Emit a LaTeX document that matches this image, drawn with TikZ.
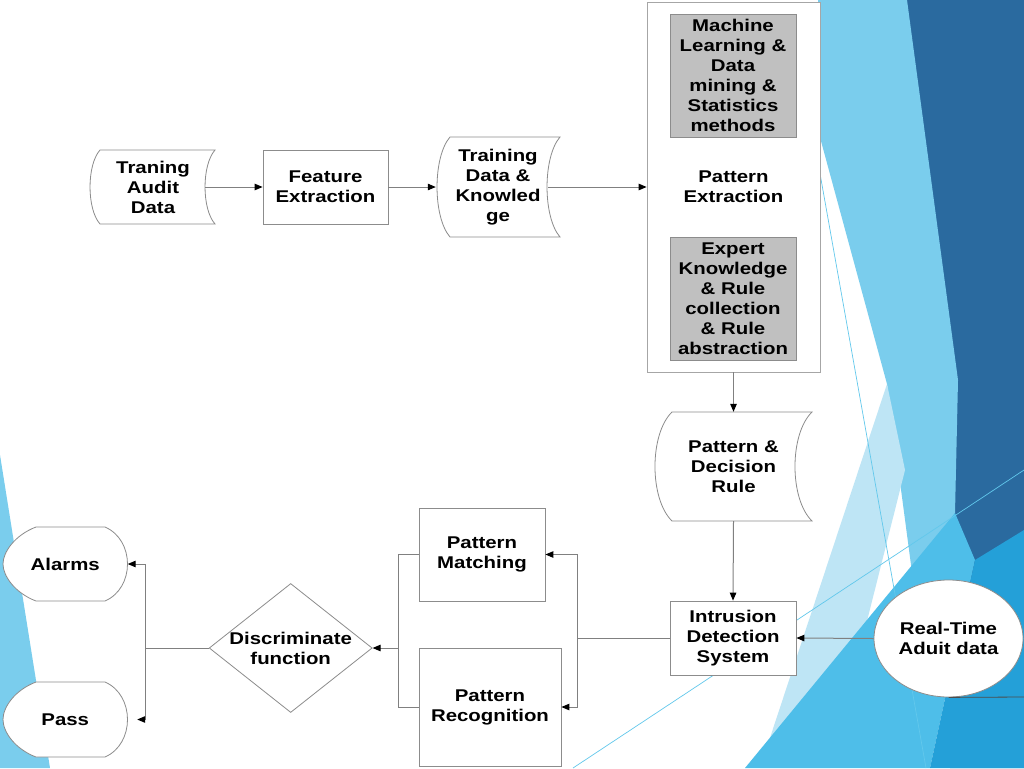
\documentclass[tikz,border=0pt]{standalone}
\usepackage{fontspec}
\newfontfamily\dfont{Liberation Sans}[FakeStretch=1.2]
\usetikzlibrary{shapes.geometric,arrows.meta}
\definecolor{bgdark}{HTML}{2A6A9F}
\definecolor{bglight}{HTML}{7ACDED}
\definecolor{bgvlight}{HTML}{BEE5F5}
\definecolor{bgmid}{HTML}{4EBEE9}
\definecolor{bgmid2}{HTML}{24A0D8}
\definecolor{bgline}{HTML}{62C8EC}
\definecolor{lgray}{HTML}{8C8C8C}
\definecolor{cgray}{HTML}{808080}
\definecolor{pegray}{HTML}{A6A6A6}
\definecolor{boxgray}{HTML}{C0C0C0}
\begin{document}
\begin{tikzpicture}[x=1pt,y=-1pt,
  txt/.style={font={\dfont\bfseries\fontsize{17}{20}\selectfont}, align=center, text=black, inner sep=0pt},
  box/.style={txt, rectangle, draw=lgray, line width=0.8pt, fill=white},
  shp/.style={draw=lgray, line width=0.8pt, fill=white},
  conn/.style={draw=cgray, line width=1pt},
  arr/.style={conn, -{Triangle[length=8pt,width=6.5pt,color=black]}},
  bgl/.style={draw=bgline, line width=0.7pt}]
\useasboundingbox (0,0) rectangle (1024,768);
\fill[white] (0,0) rectangle (1024,768);
% background decoration
\fill[bglight] (0,455) -- (50,768) -- (0,768) -- cycle;
\fill[bgdark] (905,0) -- (1024,0) -- (1024,768) -- (950,768) -- cycle;
\fill[bglight] (818,0) -- (907,0) -- (958,380) -- (955,513) -- (913,580) -- (887,384) -- (818,130) -- cycle;
\fill[bgvlight] (887,384) -- (905,470) -- (830,768) -- (760,768) -- cycle;
\fill[bgmid] (745,768) -- (955,513) -- (975,560) -- (930,768) -- cycle;
\fill[bgmid2] (930,768) -- (975,560) -- (1024,530) -- (1024,768) -- cycle;
\draw[bgl] (573,768) -- (1024,470);
\draw[bgl] (814,140) -- (926,768);
% shape outlines
\draw[shp] (100,150) -- (215,150) .. controls (201.7,165) and (201.7,209) .. (215,224) -- (100,224) .. controls (86.7,209) and (86.7,165) .. (100,150) -- cycle;
\draw[shp] (450,137) -- (560,137) .. controls (542.7,157) and (542.7,217) .. (560,237) -- (450,237) .. controls (432.7,217) and (432.7,157) .. (450,137) -- cycle;
\draw[shp] (672,412) -- (812,412) .. controls (789.3,434) and (789.3,499) .. (812,521) -- (672,521) .. controls (649.3,499) and (649.3,434) .. (672,412) -- cycle;
\draw[shp] (36,527) -- (105,527) .. controls (135,540) and (135,588) .. (105,601) -- (36,601) .. controls (15,593) and (3,576) .. (3,564) .. controls (3,552) and (15,535) .. (36,527) -- cycle;
\draw[shp] (36,682) -- (105,682) .. controls (135,695) and (135,744) .. (105,757) -- (36,757) .. controls (15,749) and (3,732) .. (3,719.5) .. controls (3,707) and (15,690) .. (36,682) -- cycle;
% nodes
\node[txt, minimum width=124, minimum height=74] (tad) at (153,187) {Traning\\Audit\\Data};
\node[box, minimum width=125, minimum height=74] (fe) at (325.5,187) {Feature\\Extraction};
\node[txt, minimum width=124, minimum height=100] (td) at (498,187) {Training\\Data \&\\Knowled\\ge};
\node[box, draw=pegray, minimum width=173, minimum height=370] (pe) at (733.5,187) {Pattern\\Extraction};
\node[box, fill=boxgray, minimum width=126, minimum height=123] (ml) at (733,75.5) {Machine\\Learning \&\\Data\\mining \&\\Statistics\\methods};
\node[box, fill=boxgray, minimum width=126, minimum height=123] (ex) at (733,298.5) {Expert\\Knowledge\\\& Rule\\collection\\\& Rule\\abstraction};
\node[txt, minimum width=157, minimum height=109] (pdr) at (733.5,466.5) {Pattern \&\\Decision\\Rule};
\node[box, minimum width=126, minimum height=74] (ids) at (733,638) {Intrusion\\Detection\\System};
\node[txt, ellipse, draw=lgray, line width=0.8pt, fill=white, minimum width=149, minimum height=117] (rt) at (948.5,638.5) {Real-Time\\Aduit data};
\node[box, minimum width=126, minimum height=93] (pm) at (482,554.5) {Pattern\\Matching};
\node[box, minimum width=142, minimum height=118] (pr) at (490,707) {Pattern\\Recognition};
\node[diamond, draw=lgray, line width=0.8pt, fill=white, inner sep=0pt, minimum width=163, minimum height=129] (df) at (290.7,648) {};
\node[txt] (dft) at (df.center) {Discriminate\\function};
\node[txt, minimum width=124.5, minimum height=74] (al) at (65.25,564) {Alarms};
\node[txt, minimum width=124.5, minimum height=75] (pa) at (65.25,719.5) {Pass};
% junctions
\coordinate (j1) at (577,638);
\coordinate (j2) at (398,648);
\coordinate (j3) at (145,648);
\coordinate (rtx) at (1024,697);
% connectors
\draw[arr] ([xshift=-10pt]tad.east) -- (fe.west);
\draw[arr] (fe.east) -- (td.west);
\draw[arr] ([xshift=-12pt]td.east) -- (pe.west);
\draw[arr] (pe.south) -- (pdr.north);
\draw[arr] (pdr.south) -- (ids.north);
\draw[arr] (rt.west) -- (ids.east);
\draw[conn] (ids.west) -- (j1);
\draw[arr] (j1) |- (pm.east);
\draw[arr] (j1) |- (pr.east);
\draw[conn] (pm.west) -| (j2);
\draw[conn] (pr.west) -| (j2);
\draw[arr] (j2) -- (df.east);
\draw[conn] (df.west) -- (j3);
\draw[arr] (j3) |- (al.east);
\draw[arr] (j3) |- ([xshift=9.5pt]pa.east);
\draw[draw=black!70, line width=0.8pt] (rt.south) -- (rtx);
\end{tikzpicture}
\end{document}
